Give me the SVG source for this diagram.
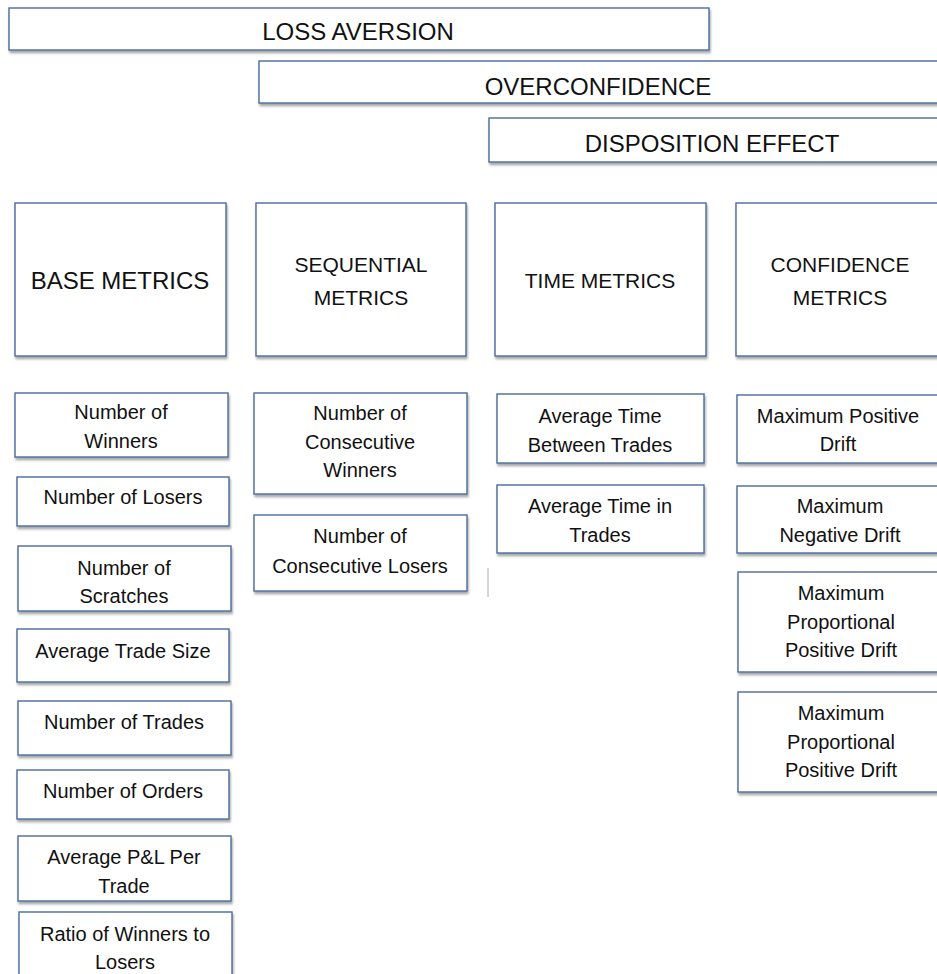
<svg xmlns="http://www.w3.org/2000/svg" width="937" height="974" viewBox="0 0 937 974">
<defs>
<filter id="sh" x="-5%" y="-5%" width="115%" height="125%">
<feDropShadow dx="1" dy="2.5" stdDeviation="1.2" flood-color="#000" flood-opacity="0.35"/>
</filter>
<style>
.b{fill:#fff;stroke:#4A6B9C;stroke-width:1.4;filter:url(#sh)}
text{font-family:"Liberation Sans",Arial,sans-serif;fill:#111;text-anchor:middle}
.t{font-size:24px}
.h{font-size:24px}
.h2{font-size:21px}
.s{font-size:20px}
</style>
</defs>
<rect width="937" height="974" fill="#fff"/>
<g id="loss-aversion"><rect class="b" x="9" y="8" width="700" height="42"/><text class="t" x="358" y="40">LOSS AVERSION</text></g>
<g id="overconfidence"><rect class="b" x="259" y="61" width="690" height="42"/><text class="t" x="598" y="95">OVERCONFIDENCE</text></g>
<g id="disposition-effect"><rect class="b" x="489" y="118" width="460" height="44"/><text class="t" x="712" y="152">DISPOSITION EFFECT</text></g>

<g id="base-metrics"><rect class="b" x="15" y="203" width="211" height="153"/><text class="h" x="120" y="289">BASE METRICS</text></g>
<g id="sequential-metrics"><rect class="b" x="256" y="203" width="210" height="153"/><text class="h2" x="361" y="272">SEQUENTIAL</text><text class="h2" x="361" y="305">METRICS</text></g>
<g id="time-metrics"><rect class="b" x="495" y="203" width="211" height="153"/><text class="h2" x="600" y="288">TIME METRICS</text></g>
<g id="confidence-metrics"><rect class="b" x="736" y="203" width="210" height="153"/><text class="h2" x="840" y="272">CONFIDENCE</text><text class="h2" x="840" y="305">METRICS</text></g>

<g id="number-of-winners"><rect class="b" x="15" y="393" width="213" height="64"/><text class="s" x="121" y="419">Number of</text><text class="s" x="121" y="448">Winners</text></g>
<g id="number-of-losers"><rect class="b" x="17" y="477" width="212" height="49"/><text class="s" x="123" y="504">Number of Losers</text></g>
<g id="number-of-scratches"><rect class="b" x="18" y="546" width="213" height="65"/><text class="s" x="124" y="575">Number of</text><text class="s" x="124" y="603">Scratches</text></g>
<g id="average-trade-size"><rect class="b" x="17" y="629" width="212" height="53"/><text class="s" x="123" y="658">Average Trade Size</text></g>
<g id="number-of-trades"><rect class="b" x="18" y="701" width="213" height="54"/><text class="s" x="124" y="729">Number of Trades</text></g>
<g id="number-of-orders"><rect class="b" x="17" y="770" width="212" height="49"/><text class="s" x="123" y="798">Number of Orders</text></g>
<g id="average-pl-per-trade"><rect class="b" x="18" y="836" width="213" height="65"/><text class="s" x="124" y="864">Average P&amp;L Per</text><text class="s" x="124" y="893">Trade</text></g>
<g id="ratio-winners-losers"><rect class="b" x="19" y="912" width="213" height="80"/><text class="s" x="125" y="941">Ratio of Winners to</text><text class="s" x="125" y="969">Losers</text></g>

<g id="consecutive-winners"><rect class="b" x="254" y="393" width="213" height="101"/><text class="s" x="360" y="420">Number of</text><text class="s" x="360" y="449">Consecutive</text><text class="s" x="360" y="477">Winners</text></g>
<g id="consecutive-losers"><rect class="b" x="254" y="515" width="213" height="76"/><text class="s" x="360" y="543">Number of</text><text class="s" x="360" y="573">Consecutive Losers</text></g>

<g id="avg-time-between-trades"><rect class="b" x="497" y="394" width="207" height="69"/><text class="s" x="600" y="423">Average Time</text><text class="s" x="600" y="452">Between Trades</text></g>
<g id="avg-time-in-trades"><rect class="b" x="497" y="485" width="207" height="68"/><text class="s" x="600" y="513">Average Time in</text><text class="s" x="600" y="542">Trades</text></g>
<line x1="488" y1="568" x2="488" y2="597" stroke="#aaa" stroke-width="1"/>

<g id="max-positive-drift"><rect class="b" x="737" y="395" width="210" height="68"/><text class="s" x="838" y="423">Maximum Positive</text><text class="s" x="838" y="451">Drift</text></g>
<g id="max-negative-drift"><rect class="b" x="737" y="486" width="210" height="67"/><text class="s" x="840" y="513">Maximum</text><text class="s" x="840" y="542">Negative Drift</text></g>
<g id="max-prop-positive-drift-1"><rect class="b" x="738" y="572" width="210" height="100"/><text class="s" x="841" y="600">Maximum</text><text class="s" x="841" y="629">Proportional</text><text class="s" x="841" y="657">Positive Drift</text></g>
<g id="max-prop-positive-drift-2"><rect class="b" x="738" y="692" width="210" height="100"/><text class="s" x="841" y="720">Maximum</text><text class="s" x="841" y="749">Proportional</text><text class="s" x="841" y="777">Positive Drift</text></g>
<g id="connectors"/>
</svg>
